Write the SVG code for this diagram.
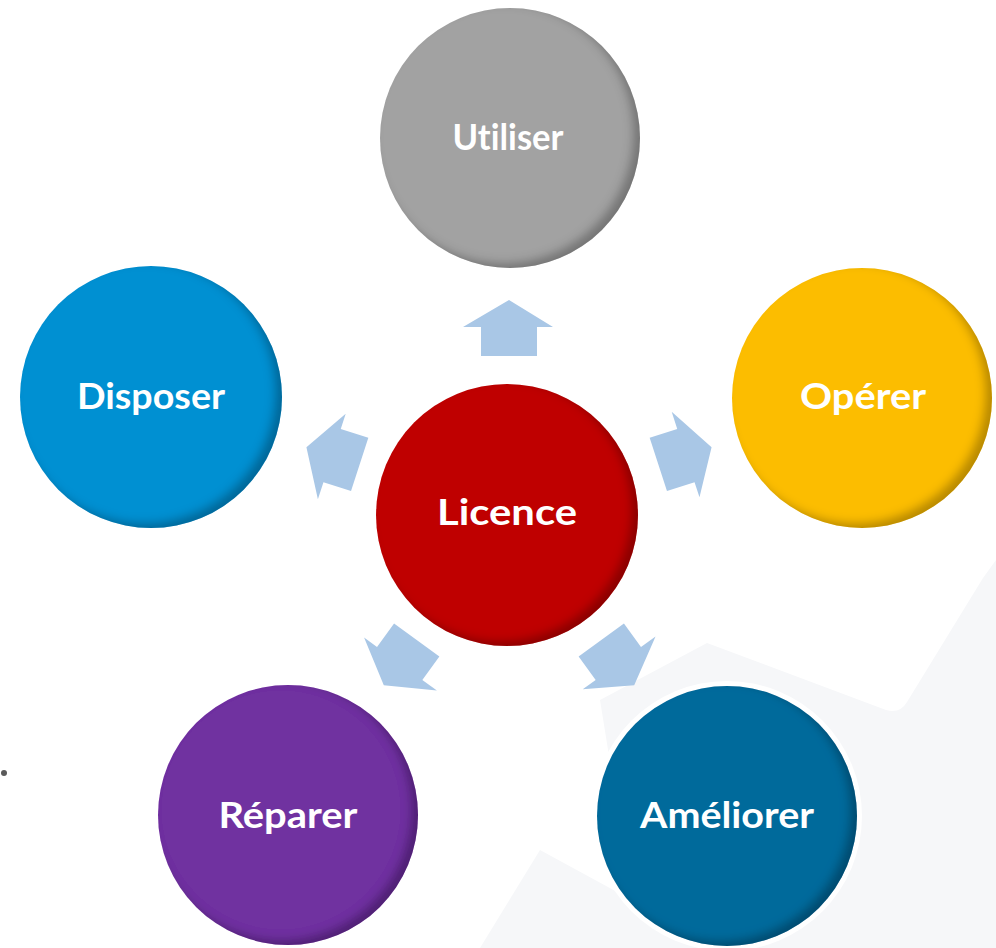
<svg xmlns="http://www.w3.org/2000/svg" width="996" height="948" viewBox="0 0 996 948">
<defs>
<style>
.lbl{font-family:"Lato","Open Sans","Liberation Sans",sans-serif;font-weight:bold;font-size:37px;fill:#fff;text-anchor:middle;font-variant-ligatures:none;font-feature-settings:"liga" 0}
.arr{fill:#a9c7e6}
.halo{fill:#fff}
.bg{fill:#f6f7f9}
</style>
<filter id="inner" x="-10%" y="-10%" width="120%" height="120%">
<feGaussianBlur in="SourceAlpha" stdDeviation="5" result="blur"/>
<feOffset in="blur" dx="-7" dy="-5" result="off"/>
<feComposite in="SourceAlpha" in2="off" operator="out" result="edge"/>
<feFlood flood-color="#000" flood-opacity="0.5"/>
<feComposite in2="edge" operator="in" result="shadow"/>
<feMerge><feMergeNode in="SourceGraphic"/><feMergeNode in="shadow"/></feMerge>
</filter>
<polygon id="arrow" points="509,300 553,327 537,327 537,356 481,356 481,327 463,327"/>
</defs>
<rect width="996" height="948" fill="#fff"/>
<g id="background">
<path class="bg" d="M707,643 L886,710 Q900,714 907,702 L983,578 L996,560 L996,948 L640,948 L600,700 Z"/>
<path class="bg" d="M480,948 L540,850 L720,948 Z"/>
</g>
<circle cx="4" cy="773" r="3" fill="#5a5a5a"/>
<g id="connectors">
<use href="#arrow" class="arr"/>
<use href="#arrow" class="arr" transform="rotate(-72 509 513)"/>
<use href="#arrow" class="arr" transform="rotate(72 509 513)"/>
<use href="#arrow" class="arr" transform="rotate(144 509 513)"/>
<use href="#arrow" class="arr" transform="rotate(-144 509 513)"/>
</g>
<g id="utiliser">
<circle cx="510" cy="138" r="134" class="halo"/>
<circle cx="510" cy="138" r="130" fill="#a2a2a2" filter="url(#inner)"/>
<text x="508" y="150" class="lbl" textLength="111" lengthAdjust="spacingAndGlyphs">Utiliser</text>
</g>
<g id="disposer">
<circle cx="151" cy="397" r="135" class="halo"/>
<circle cx="151" cy="397" r="131" fill="#0090d2" filter="url(#inner)"/>
<text x="151" y="409" class="lbl" textLength="148" lengthAdjust="spacingAndGlyphs">Disposer</text>
</g>
<g id="operer">
<circle cx="862" cy="398" r="134" class="halo"/>
<circle cx="862" cy="398" r="130" fill="#fcbd00" filter="url(#inner)"/>
<text x="863" y="409" class="lbl" textLength="126" lengthAdjust="spacingAndGlyphs">Opérer</text>
</g>
<g id="licence">
<circle cx="507" cy="515" r="135" class="halo"/>
<circle cx="507" cy="515" r="131" fill="#bf0000" filter="url(#inner)"/>
<text x="507" y="525" class="lbl" textLength="140" lengthAdjust="spacingAndGlyphs">Licence</text>
</g>
<g id="reparer">
<circle cx="288" cy="815" r="134" class="halo"/>
<circle cx="288" cy="815" r="130" fill="#7030a0" filter="url(#inner)"/>
<text x="288" y="828" class="lbl" textLength="139" lengthAdjust="spacingAndGlyphs">Réparer</text>
</g>
<g id="ameliorer">
<circle cx="727" cy="816" r="135" class="halo"/>
<circle cx="727" cy="816" r="130" fill="#006a9b" filter="url(#inner)"/>
<text x="727" y="828" class="lbl" textLength="174" lengthAdjust="spacingAndGlyphs">Améliorer</text>
</g>
</svg>
